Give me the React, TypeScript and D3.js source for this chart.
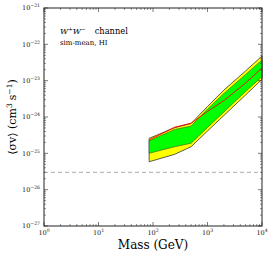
import React from "react";
import * as d3 from "d3";

const masses = [85, 250, 500, 1000, 2000, 5000, 10000];
const yellowTop = [2.59e-25, 5.07e-25, 6.62e-25, 1.95e-24, 5.53e-24, 1.85e-23, 4.78e-23];
const greenTop = [2.22e-25, 4.53e-25, 5.65e-25, 1.66e-24, 4.44e-24, 1.48e-23, 3.71e-23];
const redLine = [2.33e-25, 5.24e-25, 6.75e-25, 1.42e-24, 2.84e-24, 8.63e-24, 2.23e-23];
const greenBot = [1.0e-25, 1.52e-25, 1.89e-25, 5.14e-25, 1.37e-24, 5.04e-24, 1.29e-23];
const yellowBot = [5.87e-26, 9.4e-26, 1.52e-25, 4.11e-25, 1.1e-24, 4.03e-24, 1.09e-23];
const thermalRelic = 3e-26;
const xTickExps = [0, 1, 2, 3, 4];
const yTickExps = [-27, -26, -25, -24, -23, -22, -21];
const annotLine2 = "sim-mean, HI";
const xTitle = "Mass (GeV)";

const W = 274, H = 257;
const L = 44, R = 262, T = 8, B = 226;

export default function App() {
  const x = d3.scaleLog().domain([1, 1e4]).range([L, R]);
  const y = d3.scaleLog().domain([1e-27, 1e-21]).range([B, T]);

  const band = (top: number[], bot: number[]) =>
    d3.area<number>()
      .x((_, i) => x(masses[i]))
      .y0((_, i) => y(bot[i]))
      .y1((_, i) => y(top[i]))(masses.map((_, i) => i)) as string;
  const line = d3.line<number>()
    .x((_, i) => x(masses[i]))
    .y((_, i) => y(redLine[i]))(masses.map((_, i) => i)) as string;

  const xMinor: number[] = [];
  for (let e = 0; e < 4; e++) for (let k = 2; k <= 9; k++) xMinor.push(k * Math.pow(10, e));
  const yMinor: number[] = [];
  for (let e = -27; e < -21; e++) for (let k = 2; k <= 9; k++) yMinor.push(k * Math.pow(10, e));

  const tc = "#222";
  const font = "'DejaVu Serif', serif";
  return (
    <svg width={W} height={H} style={{ position: "absolute", left: 0, top: 0, background: "#fff" }}>
      <line x1={L} x2={R} y1={y(thermalRelic)} y2={y(thermalRelic)} stroke="#aaa" strokeWidth={1} strokeDasharray="4,3" />
      <path d={band(yellowTop, yellowBot)} fill="#ffff00" stroke="#333" strokeWidth={0.8} strokeLinejoin="round" />
      <path d={band(greenTop, greenBot)} fill="#00ff00" stroke="#333" strokeWidth={0.5} strokeLinejoin="round" />
      <path d={line} fill="none" stroke="#ff0000" strokeWidth={0.9} />
      <rect x={L} y={T} width={R - L} height={B - T} fill="none" stroke={tc} strokeWidth={1} />
      {xTickExps.map((e) => {
        const px = x(Math.pow(10, e));
        return (
          <g key={"xt" + e}>
            <line x1={px} x2={px} y1={B} y2={B - 4} stroke={tc} strokeWidth={0.6} />
            <line x1={px} x2={px} y1={T} y2={T + 4} stroke={tc} strokeWidth={0.6} />
            <text x={px} y={235} textAnchor="middle" fontFamily={font} fontSize={6.5} fill="#111">
              10<tspan fontSize={4.6} dy={-3}>{e}</tspan>
            </text>
          </g>
        );
      })}
      {xMinor.map((v, i) => (
        <g key={"xm" + i}>
          <line x1={x(v)} x2={x(v)} y1={B} y2={B - 2} stroke={tc} strokeWidth={0.5} />
          <line x1={x(v)} x2={x(v)} y1={T} y2={T + 2} stroke={tc} strokeWidth={0.5} />
        </g>
      ))}
      {yTickExps.map((e) => {
        const py = y(Math.pow(10, e));
        return (
          <g key={"yt" + e}>
            <line x1={L} x2={L + 4} y1={py} y2={py} stroke={tc} strokeWidth={0.6} />
            <line x1={R} x2={R - 4} y1={py} y2={py} stroke={tc} strokeWidth={0.6} />
            <text x={40} y={py + 2.2} textAnchor="end" fontFamily={font} fontSize={6.5} fill="#111">
              10<tspan fontSize={4.6} dy={-3}>{"\u2212" + Math.abs(e)}</tspan>
            </text>
          </g>
        );
      })}
      {yMinor.map((v, i) => (
        <g key={"ym" + i}>
          <line x1={L} x2={L + 2} y1={y(v)} y2={y(v)} stroke={tc} strokeWidth={0.5} />
          <line x1={R} x2={R - 2} y1={y(v)} y2={y(v)} stroke={tc} strokeWidth={0.5} />
        </g>
      ))}
      <text x={60} y={34} fontFamily={font} fontSize={8} fill="#000">
        <tspan fontStyle="italic">W</tspan>
        <tspan fontSize={5.5} dy={-3}>+</tspan>
        <tspan fontStyle="italic" dy={3}>W</tspan>
        <tspan fontSize={5.5} dy={-3}>{"\u2212"}</tspan>
        <tspan dy={3} dx={9} fontSize={8.3}>channel</tspan>
      </text>
      <text x={60} y={45} fontFamily={font} fontSize={7} fill="#000">{annotLine2}</text>
      <text x={(L + R) / 2} y={249} textAnchor="middle" fontFamily={font} fontSize={12} fill="#000">{xTitle}</text>
      <text transform={`translate(16, ${(T + B) / 2}) rotate(-90)`} textAnchor="middle" fontFamily={font} fontSize={11} fill="#000">
        {"\u27E8\u03C3v\u27E9 (cm"}
        <tspan fontSize={7.5} dy={-4.5}>3</tspan>
        <tspan dy={4.5} dx={3}>s</tspan>
        <tspan fontSize={7.5} dy={-4.5}>{"\u22121"}</tspan>
        <tspan dy={4.5}>)</tspan>
      </text>
    </svg>
  );
}
